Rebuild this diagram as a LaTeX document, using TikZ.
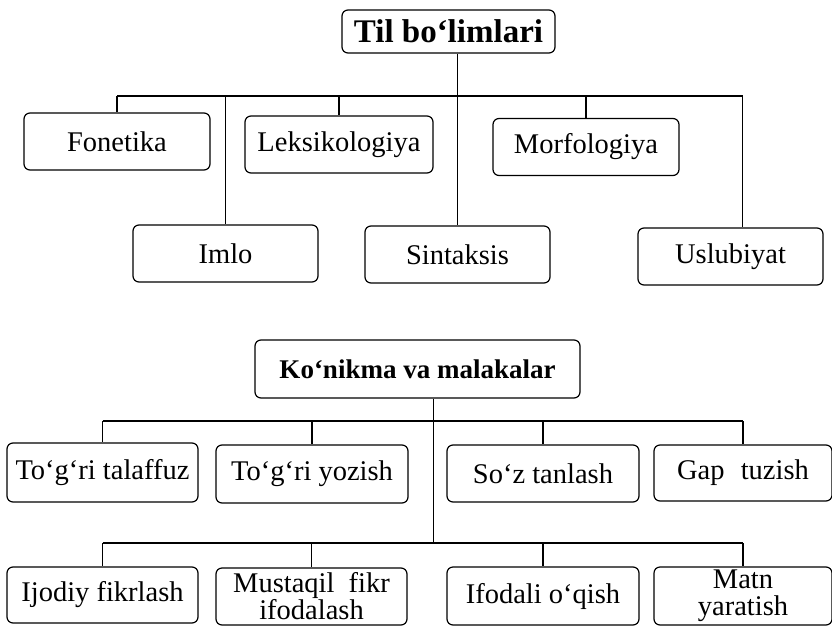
\documentclass[tikz,border=0pt]{standalone}
\usepackage{fontspec}
\setmainfont{Liberation Serif}
\begin{document}
\begin{tikzpicture}[x=1pt, y=-1pt,
    box/.style={draw, line width=1.2pt, rounded corners=6pt, minimum height=57pt,
        inner sep=0pt, align=center, font=\fontsize{28.5}{27}\selectfont},
    head/.style={box, font=\bfseries\fontsize{33}{34}\selectfont},
    link/.style={line width=1.2pt}]

    \useasboundingbox (0,0) rectangle (832,629);

    % Til bo'limlari
    \node[head, minimum width=213pt, minimum height=43pt] (til) at (448.5,31.5) {Til bo‘limlari};
    \node[box, minimum width=186pt] (fon) at (117,141.5) {Fonetika};
    \node[box, minimum width=188pt] (lek) at (339,144.5) {Leksikologiya};
    \node[box, minimum width=186pt] (mor) at (586,147) {Morfologiya};
    \node[box, minimum width=185pt] (iml) at (225.5,253.5) {Imlo};
    \node[box, minimum width=185pt] (sin) at (457.5,254.5) {Sintaksis};
    \node[box, minimum width=185pt] (usl) at (730.5,256.5) {Uslubiyat};

    \coordinate (tbar) at (0,96);
    \coordinate (uslc) at ([xshift=12pt]usl.north);
    \draw[link] (til.south -| sin.north) -- (sin.north);
    \draw[link] (fon.north |- tbar) -- (uslc |- tbar) -- (uslc);
    \foreach \n in {fon,iml,lek,mor}
        \draw[link] (\n.north |- tbar) -- (\n.north);

    % Ko'nikma va malakalar
    \node[box, font=\bfseries\fontsize{27}{28}\selectfont, minimum width=325pt, minimum height=58pt] (kon) at (417.5,369) {Ko‘nikma va malakalar};
    \node[box, minimum width=191pt, minimum height=59pt] (tal) at (102.5,472.5) {To‘g‘ri talaffuz};
    \node[box, minimum width=192pt, minimum height=58pt] (yoz) at (312,474) {To‘g‘ri yozish};
    \node[box, minimum width=192pt, minimum height=57pt] (tan) at (543,473.5) {So‘z tanlash};
    \node[box, minimum width=178pt, minimum height=56pt] (gap) at (743,473) {Gap\hspace{9pt} tuzish};
    \node[box, minimum width=191pt, minimum height=56pt] (ijo) at (102.5,595) {Ijodiy fikrlash};
    \node[box, minimum width=191pt, minimum height=57pt] (mus) at (311.5,596.5) {Mustaqil\hspace{7pt} fikr\\ifodalash};
    \node[box, minimum width=192pt, minimum height=58pt] (ifo) at (543,596) {Ifodali o‘qish};
    \node[box, minimum width=178pt, minimum height=58pt] (mat) at (743,596) {Matn\\yaratish};

    \coordinate (ubar) at (0,421);
    \coordinate (lbar) at (0,543);
    \coordinate (trk) at ([xshift=16pt]kon.south);
    \draw[link] (trk) -- (trk |- lbar);
    \draw[link] (tal.north |- ubar) -- (gap.north |- ubar);
    \draw[link] (ijo.north |- lbar) -- (mat.north |- lbar);
    \foreach \n in {tal,yoz,tan,gap}
        \draw[link] (\n.north |- ubar) -- (\n.north);
    \foreach \n in {ijo,mus,ifo,mat}
        \draw[link] (\n.north |- lbar) -- (\n.north);

\end{tikzpicture}
\end{document}
